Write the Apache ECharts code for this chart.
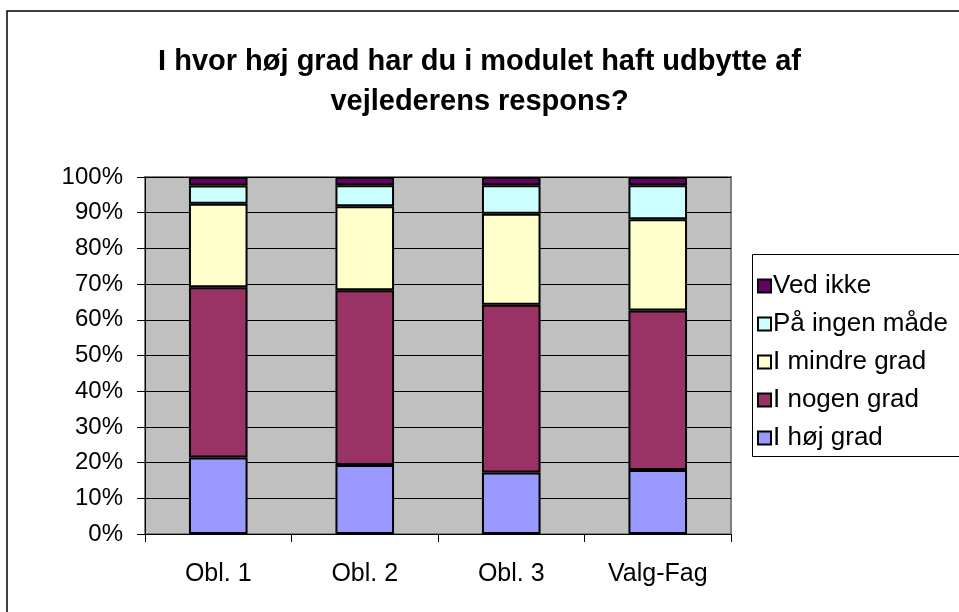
<!DOCTYPE html>
<html>
<head>
<meta charset="utf-8">
<script src="https://cdn.jsdelivr.net/npm/echarts@6/dist/echarts.min.js"></script>
<style>
html,body{margin:0;padding:0;background:#fff;}
#chart{width:959px;height:612px;}
</style>
</head>
<body>
<div id="chart"></div>
<script>
var categories = ['Obl. 1', 'Obl. 2', 'Obl. 3', 'Valg-Fag'];
var hojGrad = [21.4, 19.3, 17.2, 17.9];
var nogenGrad = [47.7, 49.0, 47.0, 44.7];
var mindreGrad = [23.4, 23.5, 25.5, 25.6];
var ingenMaade = [5.1, 5.9, 8.0, 9.5];
var vedIkke = [2.4, 2.3, 2.3, 2.3];
var seriesNames = ['I høj grad', 'I nogen grad', 'I mindre grad', 'På ingen måde', 'Ved ikke'];
var titleText = 'I hvor høj grad har du i modulet haft udbytte af\nvejlederens respons?';

var FONT = '"Liberation Sans", Arial, sans-serif';
var colors = ['#9999FF', '#993366', '#FFFFCC', '#CCFFFF', '#660066'];
var values = [hojGrad, nogenGrad, mindreGrad, ingenMaade, vedIkke];

var chart = echarts.init(document.getElementById('chart'), null, {renderer: 'canvas'});
var series = seriesNames.map(function (n, i) {
  return {
    name: n,
    type: 'bar',
    stack: 'total',
    barWidth: '40%',
    data: values[i],
    itemStyle: {color: colors[i], borderColor: '#000', borderWidth: 2},
    emphasis: {disabled: true}
  };
});

chart.setOption({
  animation: false,
  backgroundColor: '#fff',
  title: {
    text: titleText,
    left: 'center',
    top: 42,
    padding: 0,
    textStyle: {fontFamily: FONT, fontWeight: 'bold', fontSize: 29, lineHeight: 40, color: '#000'}
  },
  graphic: [
    {type: 'rect', shape: {x: 7, y: 11, width: 970, height: 620}, style: {fill: 'none', stroke: '#000', lineWidth: 1.5}, z: 100},
    {type: 'rect', shape: {x: 752.5, y: 254.5, width: 230, height: 202}, style: {fill: '#fff', stroke: '#000', lineWidth: 1}, z: 0}
  ],
  legend: {
    orient: 'vertical',
    left: 757,
    top: 273,
    itemWidth: 13,
    itemHeight: 13,
    itemGap: 12,
    icon: 'rect',
    padding: 0,
    data: seriesNames.slice().reverse(),
    textStyle: {fontFamily: FONT, fontSize: 26, color: '#000', padding: [0, 0, 0, -3]},
    z: 5
  },
  grid: {
    left: 145, top: 177, width: 586, height: 357,
    show: true, backgroundColor: '#C0C0C0', borderColor: '#808080', borderWidth: 2
  },
  xAxis: {
    type: 'category',
    data: categories,
    axisLine: {lineStyle: {color: '#000', width: 1}},
    axisTick: {show: true, interval: 0, length: 8, lineStyle: {color: '#000'}},
    axisLabel: {fontFamily: FONT, fontSize: 25, color: '#000', margin: 28}
  },
  yAxis: {
    type: 'value',
    min: 0, max: 100, interval: 10,
    axisLine: {show: true, lineStyle: {color: '#000', width: 1}},
    axisTick: {show: true, length: 8, lineStyle: {color: '#000'}},
    axisLabel: {fontFamily: FONT, fontSize: 24, color: '#000', margin: 22, formatter: '{value}%'},
    splitLine: {show: true, lineStyle: {color: '#000', width: 1}}
  },
  series: series
});
</script>
</body>
</html>
